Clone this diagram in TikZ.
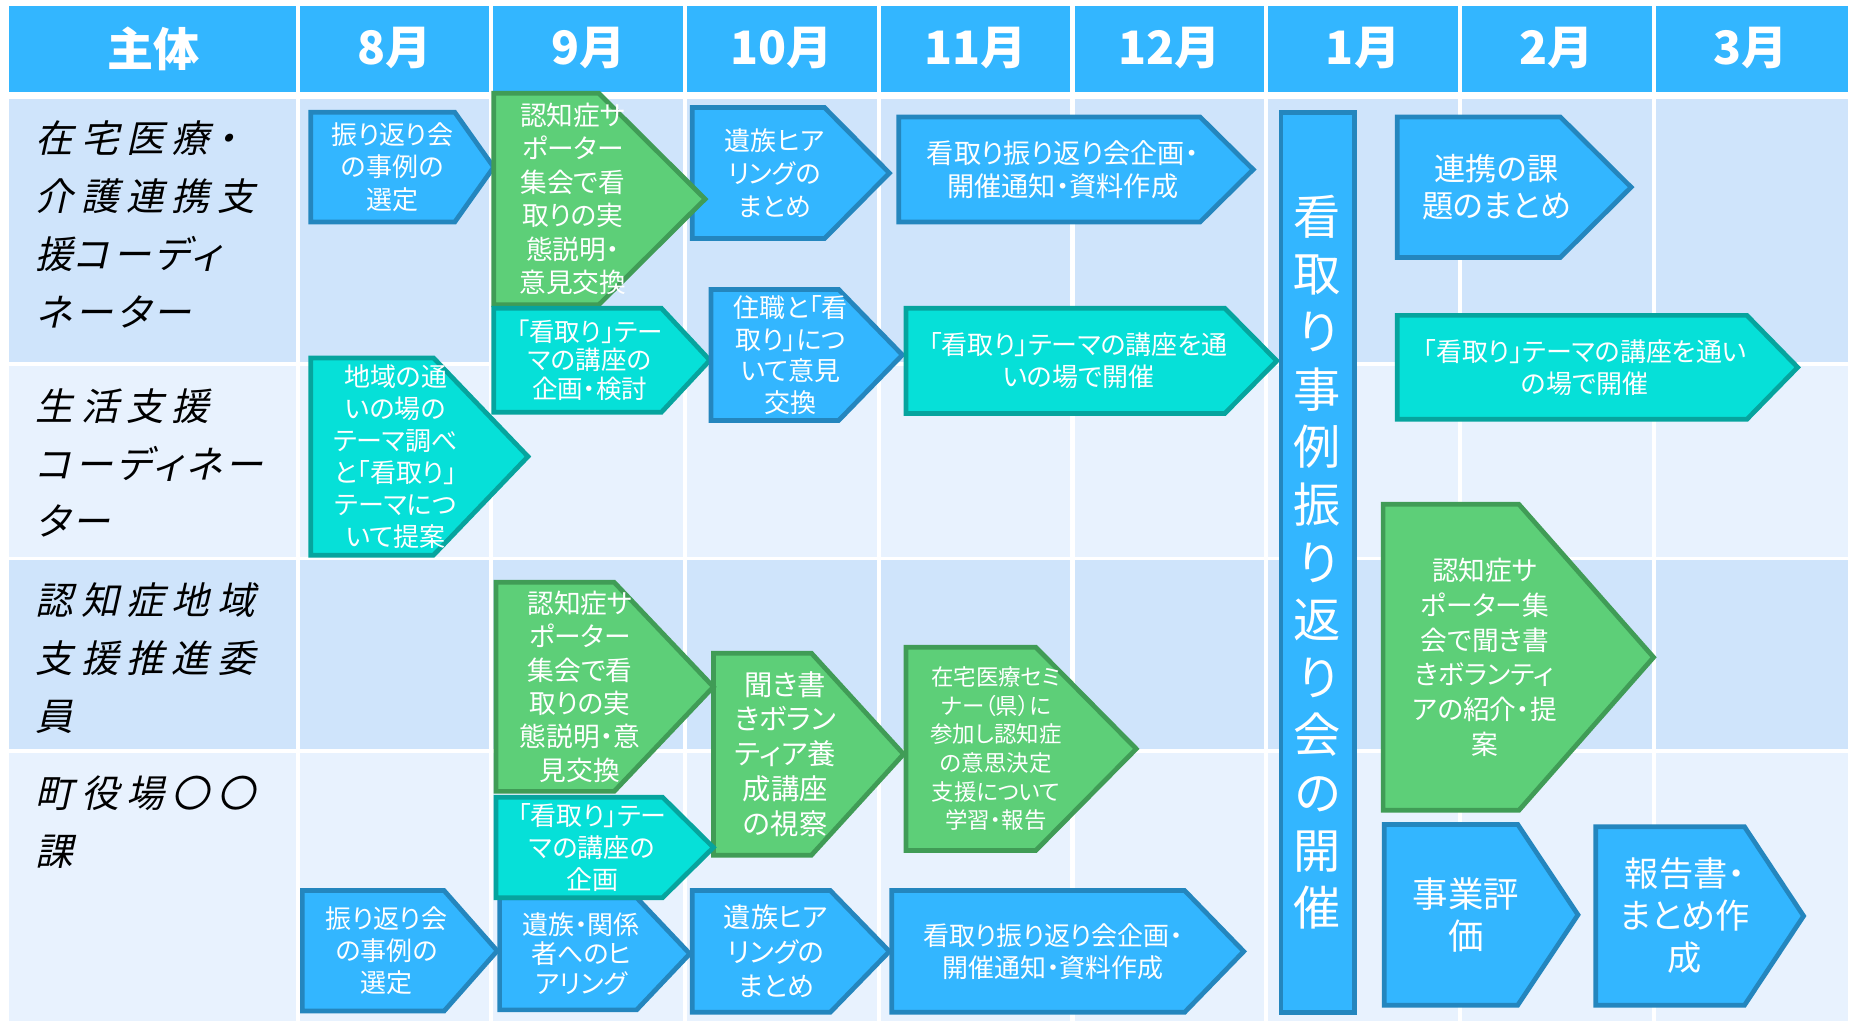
\documentclass[tikz,border=0pt]{standalone}
\usepackage{fontspec}
\setmainfont{Noto Sans CJK JP}[RawFeature={+palt}]
\newfontfamily\brushfont{Noto Sans CJK JP}[FakeSlant=0.22, LetterSpace=20, RawFeature={+palt}]
\newfontfamily\brushkana{Noto Sans CJK JP}[FakeSlant=0.22, LetterSpace=10, RawFeature={+palt}]
\usepackage{tikz}

\definecolor{headblue}{RGB}{51,182,255}
\definecolor{rowdark}{RGB}{207,228,251}
\definecolor{rowlight}{RGB}{232,242,254}
\definecolor{boxblue}{RGB}{51,182,255}
\definecolor{rimblue}{RGB}{36,134,190}
\definecolor{boxgreen}{RGB}{93,207,120}
\definecolor{rimgreen}{RGB}{64,156,86}
\definecolor{boxcyan}{RGB}{6,224,216}
\definecolor{rimcyan}{RGB}{6,164,158}

\tikzset{
  bluebox/.style={fill=boxblue, draw=rimblue, line width=2pt},
  greenbox/.style={fill=boxgreen, draw=rimgreen, line width=2pt},
  cyanbox/.style={fill=boxcyan, draw=rimcyan, line width=2pt},
  fs/.style 2 args={font=\fontsize{#1}{#2}\selectfont},
  boxtext/.style={text=white, align=center, inner sep=0pt},
  monthhead/.style={text=white, font=\fontsize{19.5}{20}\selectfont\bfseries},
  actor/.style={anchor=west, align=left, inner sep=0pt, font={\brushfont\fontsize{16}{24.5}\selectfont}},
}

% plate: [text options]{name}{style}{x left}{y top}{x right}{y bottom}{tip}{text}
\newcommand{\plate}[9][]{%
  \draw [#3] (#4, #5) -- (#6-#8, #5) -- (#6, #5/2+#7/2) -- (#6-#8, #7) -- (#4, #7) -- cycle;
  \node [boxtext, #1] (#2) at (#4/2+#6/2-#8/4, #5/2+#7/2) {#9};}

\begin{document}
\begin{tikzpicture}[x=0.5pt, y=-0.5pt]
\useasboundingbox (0, 0) rectangle (1568, 864);
% table
\fill [headblue] (8, 5) rectangle (1565, 78);
\fill [rowdark] (8, 84) rectangle (1565, 308);
\fill [rowlight] (8, 308) rectangle (1565, 473);
\fill [rowdark] (8, 473) rectangle (1565, 636);
\fill [rowlight] (8, 636) rectangle (1565, 864);
\foreach \y in {308, 473, 636}
  \draw [white, line width=1.5pt] (8, \y) -- (1565, \y);
\foreach \x in {252, 416, ..., 1400}
  \draw [white, line width=1.75pt] (\x, 5) -- (\x, 864);

\node [monthhead] (who) at (130, 41) {主体};
\foreach \m [count=\i] in {8, 9, 10, 11, 12, 1, 2, 3}
  \node [monthhead] (m\i) at (170+164*\i, 41) {{\m}月};

\node [actor] (zaitaku) at (30, 190) {在宅医療・\\介護連携支\\援{\brushkana コーディ}\\{\brushkana ネーター}};
\node [actor] (seikatsu) at (30, 392) {生活支援\\{\brushkana コーディネー}\\{\brushkana ター}};
\node [actor] (ninchi) at (30, 557) {認知症地域\\支援推進委\\員};
\node [actor] (yakuba) at (30, 696) {町役場〇〇\\課};

% row 1
\plate[fs={11}{13.7}]{select1}{bluebox}{263}{95}{418}{188}{33}{振り返り会\\の事例の\\選定}
\plate[fs={11}{14}]{hear1}{bluebox}{586}{91}{753}{202}{55}{遺族ヒア\\リングの\\まとめ}
\plate[fs={11.3}{14.2}]{support1}{greenbox}{418}{79}{597}{258}{90}{認知症サ\\ポーター\\集会で看\\取りの実\\態説明・\\意見交換}
\plate[fs={11.5}{14}]{plan1}{bluebox}{761}{99}{1061}{188}{45}{看取り振り返り会企画・\\開催通知・資料作成}
\plate[fs={13.2}{15.5}]{issues}{bluebox}{1183}{99}{1381}{218}{60}{連携の課\\題のまとめ}
\plate[fs={10.8}{12}]{course1}{cyanbox}{418}{261}{601}{349}{41}{「看取り」テー\\マの講座の\\企画・検討}
\plate[fs={11}{13.4}]{talk}{bluebox}{602}{245}{764}{356}{54}{住職と「看\\取り」につ\\いて意見\\交換}
\plate[fs={11}{13.4}]{course2}{cyanbox}{767}{261}{1081}{350}{44}{「看取り」テーマの講座を通\\いの場で開催}
\plate[fs={11}{13.4}]{course3}{cyanbox}{1183}{267}{1522}{355}{43}{「看取り」テーマの講座を通い\\の場で開催}

% row 2
\plate[fs={11}{13.5}]{theme}{cyanbox}{263}{303}{447}{470}{80}{地域の通\\いの場の\\テーマ調べ\\と「看取り」\\テーマにつ\\いて提案}

% rows 3 and 4
\plate[fs={11}{13.4}]{select2}{bluebox}{256}{754}{421}{856}{45}{振り返り会\\の事例の\\選定}
\plate[fs={11}{12.4}]{hear2}{bluebox}{423}{760}{584}{855}{45}{遺族・関係\\者へのヒ\\アリング}
\plate[fs={11.5}{14.5}]{hear3}{bluebox}{586}{754}{753}{857}{50}{遺族ヒア\\リングの\\まとめ}
\plate[fs={11}{13.4}]{plan2}{bluebox}{755}{754}{1053}{857}{50}{看取り振り返り会企画・\\開催通知・資料作成}
\plate[fs={12}{14.8}]{visit}{greenbox}{604}{553}{765}{724}{78}{聞き書\\きボラン\\ティア養\\成講座\\の視察}
\plate[fs={11.3}{14.1}]{support2}{greenbox}{420}{493}{604}{670}{84}{認知症サ\\ポーター\\集会で看\\取りの実\\態説明・意\\見交換}
\plate[fs={11}{13.4}]{course4}{cyanbox}{420}{675}{604}{760}{43}{「看取り」テー\\マの講座の\\企画}
\plate[fs={9.5}{12.1}]{seminar}{greenbox}{767}{548}{962}{720}{85}{在宅医療セミ\\ナー（県）に\\参加し認知症\\の意思決定\\支援について\\学習・報告}
\plate[fs={11.3}{14.8}]{support3}{greenbox}{1171}{427}{1400}{686}{114}{認知症サ\\ポーター集\\会で聞き書\\きボランティ\\アの紹介・提\\案}
\plate[fs={15}{18}]{evaluate}{bluebox}{1172}{698}{1336}{851}{51}{事業評\\価}
\plate[fs={14.5}{17.8}]{report}{bluebox}{1351}{700}{1527}{851}{50}{報告書・\\まとめ作\\成}

\node [bluebox, boxtext, minimum width=31pt, minimum height=381pt, fs={20}{24.4}] (review) at (1115.5, 476) {看\\取\\り\\事\\例\\振\\り\\返\\り\\会\\の\\開\\催};
\end{tikzpicture}
\end{document}
